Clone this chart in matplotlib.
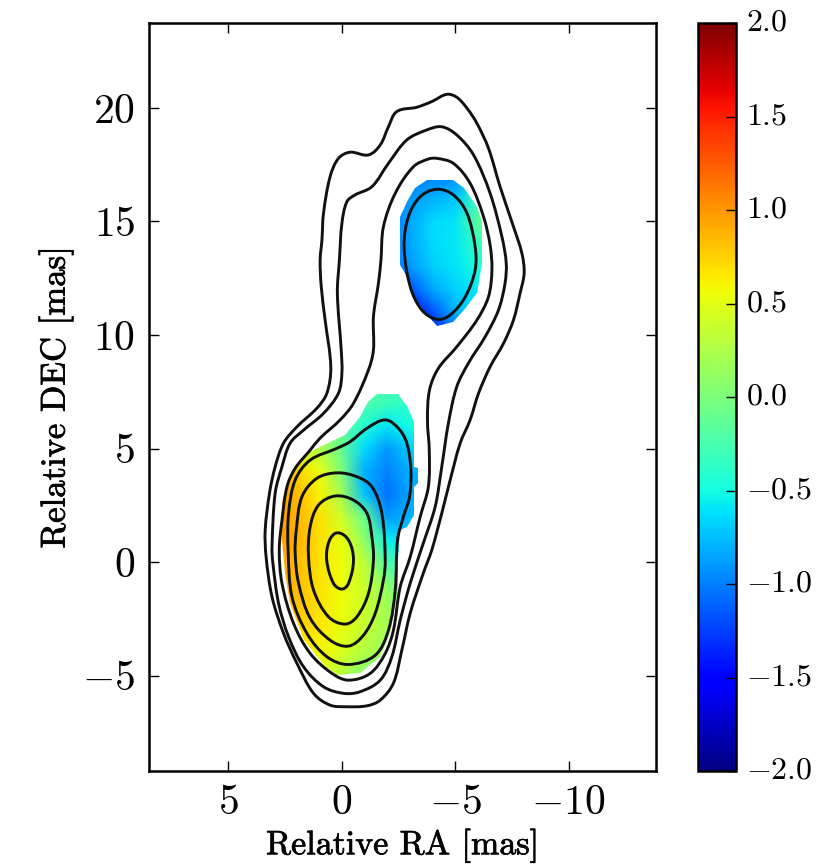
import numpy as np
import matplotlib
matplotlib.use("Agg")
import matplotlib.pyplot as plt
import matplotlib.patheffects as pe
from matplotlib.path import Path
from matplotlib.patches import PathPatch
from matplotlib.transforms import ScaledTranslation

plt.rcParams['mathtext.fontset'] = 'cm'
plt.rcParams['font.family'] = ['cmr10', 'DejaVu Serif']
plt.rcParams['axes.unicode_minus'] = False
plt.rcParams['axes.formatter.use_mathtext'] = True

# Contours: (RA, DEC) in mas, outermost first
c1_ra = [-4.63,-5.07,-5.52,-5.96,-6.47,-6.98,-7.57,-7.94,-8.04,-7.86,-7.57,-7.13,-6.54,-6.03,-5.66,-5.22,-4.78,-4.41,-3.97,-3.60,-3.02,-2.65,-2.28,-1.70,-1.11,-0.23,0.51,1.24,1.97,2.56,3.07,3.33,3.37,3.18,2.93,2.56,1.97,1.09,0.65,0.48,0.73,0.90,0.95,0.87,0.80,0.51,0.14,-0.37,-1.18,-1.70,-2.06,-2.43,-3.31,-3.97]
c1_dec = [20.60,20.47,19.99,19.32,18.22,16.53,14.77,13.60,12.72,11.84,10.66,9.63,8.60,7.43,6.26,5.23,3.61,2.15,0.53,-0.48,-2.25,-3.88,-5.33,-6.08,-6.33,-6.37,-6.30,-5.78,-4.46,-3.14,-1.53,0.23,1.41,3.04,4.20,5.24,5.96,6.78,7.44,8.60,10.66,12.13,13.30,14.18,15.37,16.97,17.78,18.05,17.93,18.37,19.17,19.84,20.03,20.28]
c2_ra = [-4.41,-5.07,-5.81,-6.54,-7.06,-7.25,-7.20,-6.91,-6.32,-5.59,-5.07,-4.70,-4.41,-4.12,-3.60,-3.02,-2.58,-2.21,-1.70,-0.81,-0.08,0.80,1.68,2.34,2.78,3.03,3.07,2.93,2.63,2.27,1.68,0.80,0.14,-0.01,0.02,0.19,0.10,-0.01,-0.23,-0.59,-1.33,-2.06,-2.87,-3.75]
c2_dec = [19.17,18.81,17.93,16.24,14.33,13.17,12.29,11.10,9.92,8.77,7.72,6.10,4.20,2.44,0.84,-0.93,-2.55,-4.17,-5.20,-5.71,-5.78,-5.49,-4.61,-3.29,-1.82,-0.06,0.67,3.04,4.20,5.24,5.81,6.55,7.44,8.33,9.34,11.84,13.30,14.92,15.87,16.17,16.53,17.56,18.59,19.03]
c3_ra = [-4.19,-4.92,-5.66,-6.25,-6.54,-6.62,-6.47,-5.96,-5.07,-4.26,-3.87,-3.78,-3.86,-3.82,-3.46,-3.02,-2.58,-2.28,-1.92,-1.26,-0.30,0.43,1.39,2.12,2.63,2.75,2.63,2.41,2.05,1.39,0.95,0.07,-0.52,-1.18,-1.40,-1.40,-1.62,-1.73,-1.84,-2.36,-3.16,-3.82]
c3_dec = [17.78,17.56,16.68,15.21,13.96,12.86,11.69,10.66,9.48,8.53,7.58,6.26,4.90,3.32,2.00,0.23,-1.09,-3.00,-4.02,-4.90,-5.20,-4.90,-4.02,-2.70,-0.94,0.53,1.85,3.32,4.13,4.93,5.46,6.26,6.99,8.46,9.34,10.81,12.28,13.30,14.77,16.24,17.41,17.75]
c4_ra = [-1.92,-2.50,-2.87,-3.05,-2.99,-2.72,-2.46,-2.36,-2.06,-1.48,-0.30,0.65,1.53,2.19,2.36,2.34,2.05,1.39,0.21,-0.37,-1.11]
c4_dec = [6.26,5.89,5.24,4.05,2.88,2.00,0.97,-1.23,-3.00,-4.10,-4.51,-4.17,-3.14,-1.53,0.53,2.15,3.61,4.49,5.01,5.30,5.89]
c5_ra = [0.21,-0.67,-1.33,-1.77,-1.92,-1.84,-1.48,-0.96,-0.30,0.51,1.39,1.90,2.05,2.00,1.75,1.09]
c5_dec = [3.93,3.76,3.32,2.15,0.09,-0.79,-2.25,-3.22,-3.70,-3.44,-2.47,-0.93,0.40,1.41,2.88,3.69]
c6_ra = [0.29,-0.52,-1.11,-1.33,-1.40,-1.18,-0.67,-0.15,0.58,1.24,1.46,1.39,1.02]
c6_dec = [2.91,2.73,2.15,1.11,0.09,-1.38,-2.41,-2.73,-2.41,-1.23,0.23,1.55,2.51]
c7_ra = [0.19,-0.30,-0.52,-0.30,-0.01,0.36,0.66,0.55]
c7_dec = [1.29,0.97,0.09,-0.94,-1.19,-0.94,0.09,0.93]
c8_ra = [-4.19,-4.92,-5.52,-5.88,-5.88,-5.45,-4.78,-4.19,-3.53,-3.02,-2.75,-2.94,-3.46]
c8_dec = [16.42,16.17,15.36,13.89,12.86,11.69,10.88,10.69,11.10,12.13,13.89,15.21,16.09]
contours = [(c1_ra, c1_dec), (c2_ra, c2_dec), (c3_ra, c3_dec), (c4_ra, c4_dec),
            (c5_ra, c5_dec), (c6_ra, c6_dec), (c7_ra, c7_dec), (c8_ra, c8_dec)]

# Spectral index, lower component
low_ra = [4, 3, 2, 1, 0, -1, -2, -3, -4]
low_dec = [8, 7, 6, 5, 4, 3, 2, 1, 0, -1, -2, -3, -4, -5, -6]
low_alpha = [
    [-0.20,-0.20,-0.20,-0.20,-0.20,-0.20,-0.25,-0.35,-0.40],
    [-0.20,-0.20,-0.20,-0.20,-0.15,-0.20,-0.30,-0.40,-0.50],
    [ 0.30, 0.30, 0.20, 0.10,-0.10,-0.45,-0.60,-0.50,-0.55],
    [ 0.70, 0.60, 0.45, 0.25,-0.10,-0.65,-0.90,-0.70,-0.70],
    [ 0.95, 0.90, 0.75, 0.55, 0.00,-0.80,-1.00,-0.80,-0.80],
    [ 1.05, 1.00, 0.85, 0.62, 0.20,-0.75,-1.05,-0.85,-0.85],
    [ 1.05, 1.00, 0.88, 0.68, 0.40,-0.10,-0.90,-0.80,-0.80],
    [ 1.00, 1.00, 0.90, 0.70, 0.52, 0.10,-0.55,-0.70,-0.75],
    [ 1.00, 0.95, 0.85, 0.68, 0.55, 0.32,-0.25,-0.50,-0.60],
    [ 0.95, 0.90, 0.85, 0.68, 0.55, 0.38, 0.08,-0.20,-0.30],
    [ 0.90, 0.85, 0.80, 0.68, 0.55, 0.38, 0.20, 0.05, 0.00],
    [ 0.85, 0.80, 0.75, 0.65, 0.52, 0.35, 0.20, 0.10, 0.05],
    [ 0.70, 0.65, 0.62, 0.58, 0.45, 0.25, 0.15, 0.05, 0.00],
    [ 0.60, 0.55, 0.55, 0.50, 0.28, 0.00,-0.05,-0.05,-0.05],
    [ 0.50, 0.50, 0.45, 0.40, 0.15,-0.10,-0.10,-0.10,-0.10],
]
# Spectral index, upper component
up_ra = [-2, -3, -4, -5, -6, -7]
up_dec = [17, 16, 15, 14, 13, 12, 11, 10]
up_alpha = [
    [-1.00,-1.00,-1.00,-0.95,-0.60,-0.30],
    [-0.95,-0.90,-0.80,-0.72,-0.30,-0.20],
    [-1.05,-0.85,-0.65,-0.60,-0.15, 0.00],
    [-1.05,-0.85,-0.65,-0.58,-0.35,-0.20],
    [-1.05,-0.92,-0.70,-0.60,-0.48,-0.40],
    [-1.30,-1.20,-0.85,-0.68,-0.58,-0.50],
    [-1.55,-1.50,-1.20,-0.80,-0.62,-0.55],
    [-1.55,-1.50,-1.40,-1.10,-0.80,-0.60],
]
# Outlines of the area with a spectral index
low_edge_ra = [-1.55,-2.50,-2.94,-3.19,-3.19,-3.38,-3.38,-3.19,-3.19,-2.87,-2.58,-2.50,-2.50,-2.36,-2.14,-1.70,-0.81,0.21,0.80,1.68,2.27,2.49,2.63,2.63,2.27,1.68,0.80,-0.15,-0.81,-1.18]
low_edge_dec = [7.40,7.40,6.77,6.18,4.20,4.14,3.48,3.32,2.07,1.55,1.41,0.09,-1.09,-1.97,-3.13,-4.17,-4.89,-4.98,-4.54,-3.44,-1.81,-0.48,0.97,2.60,3.76,4.71,5.15,5.59,6.40,7.06]
up_edge_ra = [-3.75,-4.92,-5.37,-5.96,-6.18,-6.18,-5.96,-5.37,-4.92,-4.19,-3.60,-3.09,-2.80,-2.58,-2.58,-2.87,-3.24]
up_edge_dec = [16.83,16.83,16.46,15.65,14.99,13.16,11.84,11.10,10.59,10.41,11.10,11.84,12.72,13.08,15.21,15.87,16.46]

x_ticks = [5, 0, -5, -10]
x_tick_labels = ['$5$', '$0$', '$-5$', '$-10$']
y_ticks = [-5, 0, 5, 10, 15, 20]
y_tick_labels = ['$-5$', '$0$', '$5$', '$10$', '$15$', '$20$']
cb_ticks = [-2.0, -1.5, -1.0, -0.5, 0.0, 0.5, 1.0, 1.5, 2.0]
cb_labels = ['$-2.0$', '$-1.5$', '$-1.0$', '$-0.5$', '$0.0$', '$0.5$', '$1.0$', '$1.5$', '$2.0$']


def smooth_closed(xs, ys):
    """Closed Bezier path through the read-off points; handles follow chord length."""
    p = np.column_stack([xs, ys])
    n = len(p)
    tang = np.roll(p, -1, axis=0) - np.roll(p, 1, axis=0)
    tang = tang / np.linalg.norm(tang, axis=1, keepdims=True)
    verts = [p[0]]
    codes = [Path.MOVETO]
    for i in range(n):
        j = (i + 1) % n
        d = np.linalg.norm(p[j] - p[i]) / 3
        verts += [p[i] + tang[i] * d, p[j] - tang[j] * d, p[j]]
        codes += [Path.CURVE4] * 3
    return Path(np.array(verts), codes)


W, H = 830, 864
fig = plt.figure(figsize=(W / 100, H / 100), dpi=100)
ax = fig.add_axes([149 / W, 1 - 771 / H, 507 / W, 748 / H])
cax = fig.add_axes([698 / W, 1 - 771 / H, 38 / W, 748 / H])

patches = [(low_ra, low_dec, low_alpha, low_edge_ra, low_edge_dec),
           (up_ra, up_dec, up_alpha, up_edge_ra, up_edge_dec)]
mesh = None
for gx, gy, z, ex, ey in patches:
    mesh = ax.pcolormesh(gx, gy, np.array(z), shading='gouraud', cmap='jet',
                         vmin=-2, vmax=2, zorder=1)
    edge = Path(np.column_stack([ex + ex[:1], ey + ey[:1]]), closed=True)
    mesh.set_clip_path(PathPatch(edge, transform=ax.transData))

for cx, cy in contours:
    ax.add_patch(PathPatch(smooth_closed(cx, cy), fill=False, edgecolor='#111111',
                           lw=2.1, zorder=3))

ax.set_xlim(8.49, -13.85)
ax.set_ylim(-9.2, 23.74)
ax.set_xticks(x_ticks, x_tick_labels)
ax.set_yticks(y_ticks, y_tick_labels)
ax.tick_params(direction='in', length=7, width=1, top=True, right=True,
               labelsize=30, pad=10)
stroke = [pe.withStroke(linewidth=0.5, foreground='black')]
ax.set_xlabel('Relative RA [mas]', fontsize=24.5, labelpad=5, path_effects=stroke)
ax.set_ylabel('Relative DEC [mas]', fontsize=25, labelpad=6, path_effects=stroke)
for s in ax.spines.values():
    s.set_linewidth(1.8)

cb = fig.colorbar(mesh, cax=cax, ticks=cb_ticks)
cb.ax.set_yticklabels(cb_labels)
cb.ax.tick_params(direction='in', length=7, width=1, labelsize=23, pad=7, right=True)
cb.outline.set_linewidth(1.8)
shift = ScaledTranslation(0, 3 / 100, fig.dpi_scale_trans)
for lab in cb.ax.get_yticklabels():
    lab.set_transform(lab.get_transform() + shift)

fig.savefig('out.png', dpi=100)
